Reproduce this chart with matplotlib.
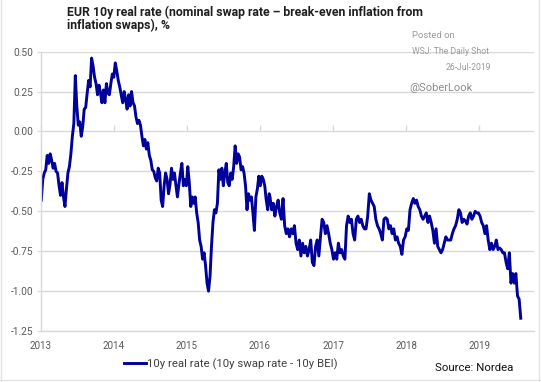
import matplotlib
matplotlib.use("Agg")
import matplotlib.pyplot as plt
from matplotlib.lines import Line2D
import pandas as pd

# 10y real rate (%), two stretches
seg1_start, seg1_end = "2013-01-04", "2016-02-16"
seg1_vals = [
    -0.43, -0.30, -0.26, -0.24, -0.15, -0.20, -0.14, -0.18, -0.23, -0.20,
    -0.25, -0.26, -0.34, -0.40, -0.32, -0.41, -0.47, -0.36, -0.26, -0.22,
    -0.14, -0.03, 0.05, 0.35, 0.16, 0.04, 0.06, -0.03, 0.03, 0.14,
    0.15, 0.24, 0.32, 0.28, 0.46, 0.41, 0.34, 0.30, 0.23, 0.29,
    0.24, 0.18, 0.26, 0.18, 0.30, 0.24, 0.23, 0.30, 0.36, 0.34,
    0.43, 0.38, 0.32, 0.28, 0.23, 0.18, 0.25, 0.20, 0.14, 0.23,
    0.16, 0.25, 0.18, 0.16, 0.09, 0.05, 0.07, 0.04, -0.03, -0.09,
    -0.05, -0.11, -0.07, -0.15, -0.18, -0.24, -0.25, -0.29, -0.31, -0.23,
    -0.26, -0.43, -0.47, -0.34, -0.26, -0.30, -0.39, -0.33, -0.23, -0.30,
    -0.26, -0.34, -0.41, -0.33, -0.26, -0.20, -0.34, -0.30, -0.34, -0.22,
    -0.32, -0.47, -0.41, -0.45, -0.41, -0.51, -0.57, -0.68, -0.72, -0.80,
    -0.76, -0.84, -0.95, -1.00, -0.91, -0.72, -0.57, -0.49, -0.51, -0.45,
    -0.24, -0.30, -0.23, -0.34, -0.26, -0.20, -0.32, -0.34, -0.26, -0.30,
    -0.22, -0.09, -0.20, -0.14, -0.16, -0.24, -0.22, -0.26, -0.34, -0.49,
    -0.39, -0.43, -0.41, -0.51, -0.62, -0.41, -0.36, -0.28, -0.34, -0.28,
    -0.30, -0.34, -0.43, -0.49, -0.39,
]
seg2_start, seg2_end = "2016-02-20", "2019-07-26"
seg2_vals = [
    -0.41, -0.49, -0.45, -0.53, -0.47, -0.43, -0.51, -0.55, -0.42, -0.59,
    -0.64, -0.61, -0.66, -0.61, -0.64, -0.59, -0.70, -0.74, -0.68, -0.78,
    -0.70, -0.76, -0.72, -0.78, -0.74, -0.68, -0.82, -0.84, -0.72, -0.68,
    -0.78, -0.66, -0.55, -0.57, -0.64, -0.59, -0.64, -0.70, -0.74, -0.80,
    -0.76, -0.80, -0.70, -0.76, -0.74, -0.78, -0.80, -0.59, -0.53, -0.57,
    -0.55, -0.64, -0.68, -0.55, -0.53, -0.57, -0.55, -0.59, -0.61, -0.61,
    -0.53, -0.39, -0.43, -0.45, -0.47, -0.55, -0.59, -0.61, -0.64, -0.68,
    -0.55, -0.54, -0.55, -0.61, -0.59, -0.64, -0.61, -0.68, -0.66, -0.70,
    -0.72, -0.77, -0.68, -0.66, -0.61, -0.62, -0.49, -0.45, -0.42, -0.45,
    -0.43, -0.47, -0.49, -0.53, -0.55, -0.53, -0.51, -0.57, -0.53, -0.57,
    -0.62, -0.70, -0.61, -0.72, -0.74, -0.76, -0.74, -0.70, -0.66, -0.68,
    -0.68, -0.68, -0.64, -0.61, -0.59, -0.55, -0.49, -0.51, -0.57, -0.55,
    -0.56, -0.58, -0.53, -0.51, -0.55, -0.53, -0.50, -0.51, -0.51, -0.53,
    -0.57, -0.59, -0.64, -0.59, -0.68, -0.74, -0.70, -0.74, -0.72, -0.68,
    -0.74, -0.73, -0.74, -0.76, -0.76, -0.82, -0.86, -0.76, -0.95, -0.89,
    -0.95, -0.89, -1.03, -1.05, -1.17,
]
yticks = [0.50, 0.25, 0.00, -0.25, -0.50, -0.75, -1.00, -1.25]
years = [2013, 2014, 2015, 2016, 2017, 2018, 2019]

title_lines = ["EUR 10y real rate (nominal swap rate \u2013 break-even inflation from",
               "inflation swaps), %"]
series_name = "10y real rate (10y swap rate - 10y BEI)"

dates = list(pd.date_range(seg1_start, seg1_end, periods=len(seg1_vals))) + \
        list(pd.date_range(seg2_start, seg2_end, periods=len(seg2_vals)))
vals = seg1_vals + seg2_vals

plt.rcParams['font.family'] = ['Roboto', 'DejaVu Sans']
grid_c = '#d9d9d9'
lab_c = '#595959'
navy = '#00009a'

fig = plt.figure(figsize=(5.41, 3.82), dpi=100)
ax = fig.add_axes([0.0752, 0.1335, 0.9118, 0.7312])

ax.plot(dates, vals, color=navy, lw=2.1, solid_joinstyle='round', label=series_name)

ax.set_ylim(-1.25, 0.5)
ax.set_xlim(pd.Timestamp("2013-01-01"), pd.Timestamp("2019-09-30"))
ax.set_yticks(yticks)
ax.set_yticklabels([f"{v:.2f}" for v in yticks])
ax.yaxis.grid(True, color=grid_c, lw=1.0)
ax.set_axisbelow(True)

tick_dates = [pd.Timestamp(f"{y}-01-01") for y in years]
ax.set_xticks(tick_dates)
ax.set_xticklabels([str(y) for y in years])
ax.tick_params(axis='x', length=0, pad=7, labelsize=7, labelcolor=lab_c)
ax.tick_params(axis='y', length=3, color=grid_c, pad=2, labelsize=7.3, labelcolor=lab_c)

for s in ['top', 'right']:
    ax.spines[s].set_visible(False)
for s in ['left', 'bottom']:
    ax.spines[s].set_color(grid_c)
    ax.spines[s].set_linewidth(1.0)

# x ticks sit on the zero line
sec = ax.secondary_xaxis(1.25 / 1.75)
sec.set_xticks(tick_dates)
sec.set_xticklabels([])
sec.tick_params(axis='x', direction='out', length=4, color=grid_c, width=1.0)
sec.spines['bottom'].set_visible(False)
sec.spines['top'].set_visible(False)

# title, one text per line
for line, base in zip(title_lines, [16, 28.7]):
    fig.text(67 / 541, 1 - base / 382, line, ha='left', va='baseline', fontsize=8.8,
             fontweight='bold', color='#1f1f1f')

# watermark
wm = '#9a9a9a'
fig.text(412 / 541, 1 - 35 / 382, "Posted on", fontsize=6.8, color=wm, va='center')
fig.text(412 / 541, 1 - 51.5 / 382, "WSJ: The Daily Shot", fontsize=6.2, color=wm, va='center')
fig.text(491 / 541, 1 - 67 / 382, "26-Jul-2019", fontsize=6.2, color=wm, va='center', ha='right')
fig.text(409 / 541, 1 - 88 / 382, "@SoberLook", fontsize=8.0, color='#8c8c8c', va='center')

leg = fig.legend(loc='center', bbox_to_anchor=(231 / 541, 1 - 364 / 382), frameon=False,
                 fontsize=8.2, handlelength=1.9, handletextpad=0.1)
for t in leg.get_texts():
    t.set_color('#404040')

fig.text(513 / 541, 1 - 368 / 382, "Source: Nordea", ha='right', va='center',
         fontsize=8.2, color='#111111')

# light frame around the picture
for xs, ys in [([0.002, 0.002], [0, 1]), ([0.996, 0.996], [0, 1]), ([0, 1], [0.004, 0.004])]:
    fig.add_artist(Line2D(xs, ys, color='#e3e3e3', lw=1.0, transform=fig.transFigure))

fig.savefig("out.png", dpi=100)
